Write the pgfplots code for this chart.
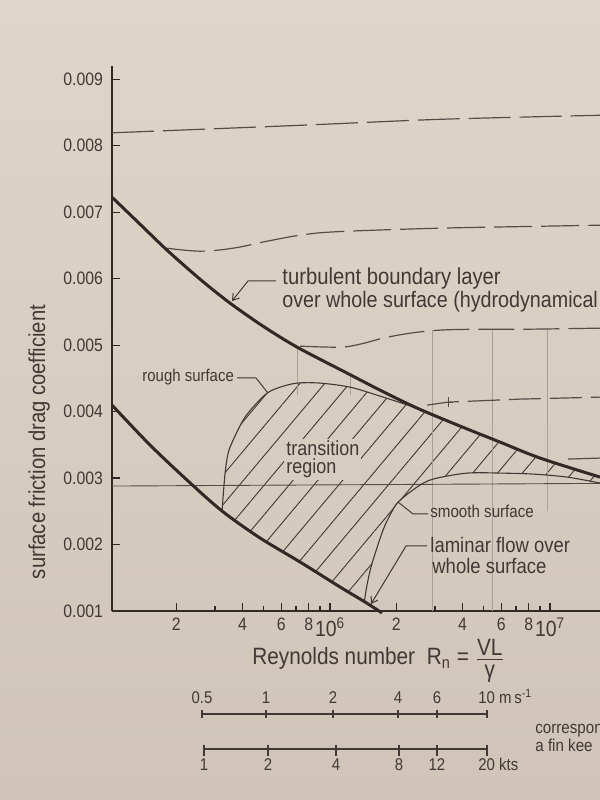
\documentclass[border=0pt]{standalone}
\usepackage{fontspec}
\setmainfont{Liberation Sans}[FakeStretch=0.88]
\usepackage{pgfplots}
\pgfplotsset{compat=1.18}
\usetikzlibrary{patterns.meta,arrows.meta}
\definecolor{paperlight}{RGB}{223,214,202}
\definecolor{paperdark}{RGB}{207,196,183}
\definecolor{papermid}{RGB}{214,204,191}
\definecolor{ink}{RGB}{50,41,38}
\definecolor{inkthin}{RGB}{66,56,53}
\definecolor{inkdash}{RGB}{86,76,72}
\definecolor{faint}{RGB}{170,160,152}
\newcommand\fs[1]{\fontsize{#1}{#1}\selectfont}

\pgfplotstableread{
R C
1.02e5 0.007226
1.368e5 0.00682
1.815e5 0.006429
2.564e5 0.005992
3.511e5 0.005632
4.955e5 0.005286
7.079e5 0.00497
1.195e6 0.004579
1.687e6 0.004323
2.485e6 0.004053
3.899e6 0.003782
5.929e6 0.003541
9.01e6 0.003301
1.687e7 0.003015
}\turbulent

\pgfplotstableread{
R C
1.02e5 0.004098
1.52e5 0.003496
2.263e5 0.002955
3.228e5 0.002504
4.806e5 0.002098
7.305e5 0.001737
1.11e6 0.001361
1.442e6 0.001135
1.723e6 0.00097
}\laminar

\pgfplotstableread{
R C
3.228e5 0.002504
3.263e5 0.002714
3.332e5 0.003075
3.439e5 0.003376
3.624e5 0.003571
4.023e5 0.003872
4.467e5 0.004068
5.172e5 0.004278
5.925e5 0.004368
7.079e5 0.004429
9.006e5 0.004429
1.233e6 0.004368
1.688e6 0.004233
2.486e6 0.004053
}\rough

\pgfplotstableread{
R C
1.428e6 0.00112
1.458e6 0.001316
1.504e6 0.001541
1.568e6 0.001767
1.741e6 0.002218
1.874e6 0.002444
2.038e6 0.002639
2.486e6 0.002865
2.939e6 0.002985
4.195e6 0.003075
5.925e6 0.003075
8.37e6 0.00306
1.195e7 0.003015
1.687e7 0.002925
}\smoothsurf

\begin{document}
\begin{tikzpicture}
\shade[top color=paperlight,bottom color=paperdark] (0,0) rectangle (300pt,400pt);
\path[use as bounding box] (0,0) rectangle (300pt,400pt);

\begin{axis}[
  at={(56pt,94.5pt)}, anchor=south west,
  scale only axis, width=244pt, height=272.5pt,
  xmode=log, xmin=1.02e5, xmax=1.687e7,
  ymin=0.001, ymax=0.0092,
  axis lines=left,
  axis line style={-, draw=ink, line width=0.7pt},
  clip=false,
  tick align=inside,
  major tick length=4pt, minor tick length=2.5pt,
  tick style={draw=ink, line width=0.6pt},
  xtick={2e5,4e5,6e5,8e5,1e6,2e6,4e6,6e6,8e6,1e7},
  xticklabels={2,4,6,8,{\raisebox{-2.5pt}{\fs{11}10\textsuperscript{6}}},2,4,6,8,{\raisebox{-2pt}{\fs{11}10\textsuperscript{7}}}},
  minor xtick={3e5,5e5,7e5,9e5,3e6,5e6,7e6,9e6},
  ytick={0.001,0.002,0.003,0.004,0.005,0.006,0.007,0.008,0.009},
  yticklabels={0.001,0.002,0.003,0.004,0.005,0.006,0.007,0.008,0.009},
  scaled y ticks=false,
  tick label style={font=\fs{9}, text=inkthin},
  yticklabel style={xshift=-1pt},
  /pgf/number format/assume math mode=true,
]
% hatched transition region
\addplot[draw=none, pattern={Lines[angle=50,distance=9.5pt,line width=0.45pt]}, pattern color=inkthin]
 coordinates {
 (3.228e5,0.002504) (3.263e5,0.002714) (3.332e5,0.003075) (3.439e5,0.003376)
 (3.624e5,0.003571) (4.023e5,0.003872) (4.467e5,0.004068) (5.172e5,0.004278)
 (5.925e5,0.004368) (7.079e5,0.004429) (9.006e5,0.004429) (1.233e6,0.004368)
 (1.688e6,0.004233) (2.486e6,0.004053)
 (3.899e6,0.003782) (5.929e6,0.003541) (9.01e6,0.003301) (1.687e7,0.003015)
 (1.687e7,0.002925) (1.195e7,0.003015) (8.37e6,0.00306) (5.925e6,0.003075)
 (4.195e6,0.003075) (2.939e6,0.002985) (2.486e6,0.002865) (2.038e6,0.002639)
 (1.874e6,0.002444) (1.741e6,0.002218) (1.568e6,0.001767) (1.504e6,0.001541)
 (1.458e6,0.001316) (1.428e6,0.00112)
 (1.11e6,0.001361) (7.305e5,0.001737) (4.806e5,0.002098)
 } -- cycle;

% faint vertical construction lines
\addplot[faint, line width=0.5pt] coordinates {(7.08e5,0.004985) (7.08e5,0.004248)};
\addplot[faint, line width=0.5pt] coordinates {(1.233e6,0.004579) (1.233e6,0.004248)};
\addplot[faint, line width=0.5pt] coordinates {(2.91e6,0.005226) (2.91e6,0.001)};
\addplot[faint, line width=0.5pt] coordinates {(5.5e6,0.00524) (5.5e6,0.001)};
\addplot[faint, line width=0.5pt] coordinates {(9.7e6,0.00524) (9.7e6,0.0025)};

% thin horizontal line
\addplot[inkdash, line width=0.45pt] coordinates {(1.02e5,0.00288) (1.687e7,0.00292)};

% dashed curves
\addplot[inkdash, line width=0.6pt, dash pattern=on 21pt off 4.5pt, smooth]
 coordinates {(1.02e5,0.008195) (7.305e5,0.008308) (3.16e6,0.008398) (1.687e7,0.008459)};
\addplot[inkdash, line width=0.6pt, dash pattern=on 19pt off 4.5pt, smooth, tension=0.6]
 coordinates {(1.815e5,0.006459) (2.564e5,0.006414) (3.624e5,0.006459) (5.172e5,0.006564)
 (7.305e5,0.006654) (1.076e6,0.006707) (3.065e6,0.006759) (9.006e6,0.006789) (1.687e7,0.006805)};
\addplot[inkdash, line width=0.6pt, dash pattern=on 18pt off 4.5pt, smooth, tension=0.6]
 coordinates {(7.305e5,0.004985) (1.11e6,0.00497) (1.369e6,0.005015) (1.741e6,0.005105)
 (2.31e6,0.00518) (3.162e6,0.005226) (4.808e6,0.00524) (7.864e6,0.00524) (1.687e7,0.005256)};
\addplot[inkdash, line width=0.6pt, dash pattern=on 16pt off 4.5pt]
 coordinates {(2.76e6,0.004098) (3.44e6,0.004143) (7.305e6,0.004188) (1.687e7,0.004218)};
\addplot[inkdash, only marks, mark=+, mark size=2.5pt, line width=0.6pt]
 coordinates {(3.44e6,0.004143)};
\addplot[inkdash, line width=0.6pt, dash pattern=on 16pt off 4.5pt]
 coordinates {(1.208e7,0.003286) (1.687e7,0.003301)};

% thin boundary curves
\addplot[inkthin, line width=0.55pt, smooth, tension=0.5] table[x=R,y=C] {\rough};
\addplot[inkthin, line width=0.55pt, smooth, tension=0.5] table[x=R,y=C] {\smoothsurf};

% thick curves
\addplot[ink, line width=1.5pt, smooth, tension=0.5] table[x=R,y=C] {\turbulent};
\addplot[ink, line width=1.5pt, smooth, tension=0.5] table[x=R,y=C] {\laminar};
\end{axis}

\begin{scope}[x=0.5pt,y=-0.5pt,yshift=400pt, every node/.style={text=inkthin, inner sep=0pt}]
% y label
\node[rotate=90, anchor=base, font=\fs{11.5}] at (45,442) {surface friction drag coefficient};
% x label
\node[anchor=base west, font=\fs{11.8}] at (252,665)
 {Reynolds number\enspace R\textsubscript{n} = $\frac{\hbox{\fs{11.8}VL}}{\rule{0pt}{8.5pt}\hbox{\fs{11.8}γ}}$};

% annotations
\node[anchor=base west, font=\fs{11.5}] at (282,285) {turbulent boundary layer};
\node[anchor=base west, font=\fs{11.2}] at (282,308) {over whole surface (hydrodynamical};
\draw[inkthin, line width=0.5pt, -{Straight Barb[length=3pt,width=4pt]}] (276,281) -- (248,281) -- (232,301);

\node[anchor=base west, font=\fs{8.5}] at (142,382) {rough surface};
\draw[inkthin, line width=0.5pt] (237,378) -- (256,378) -- (268,393);

\node[anchor=base west, align=left, fill=papermid, inner sep=1pt,
      font=\fontsize{10.2}{9.2}\selectfont] at (284,474) {transition\\region};

\node[anchor=base west, font=\fs{8.6}] at (430,518) {smooth surface};
\draw[inkthin, line width=0.5pt] (428,514) -- (413,514) -- (398,502);

\node[anchor=base west, align=left, font=\fontsize{10.5}{10.3}\selectfont] at (430,573) {laminar flow over\\\hspace{1pt}whole surface};
\draw[inkthin, line width=0.5pt, -{Straight Barb[length=3pt,width=4pt]}] (427,546) -- (406,546) -- (371,604);

% speed scales
\draw[inkthin, line width=0.55pt] (202,714) -- (487,714);
\foreach \xx/\lab in {202/0.5,266/1,333/2,398/4,437/6} {
  \draw[inkthin, line width=0.55pt] (\xx,710) -- (\xx,718);
  \node[anchor=base, font=\fs{8.5}] at (\xx,703) {\lab};
}
\draw[inkthin, line width=0.55pt] (487,710) -- (487,718);
\node[anchor=base west, font=\fs{8.5}] at (478,703) {10 m\,s\textsuperscript{-1}};

\draw[inkthin, line width=0.55pt] (204,749) -- (487,749);
\foreach \xx/\lab in {204/1,268/2,336/4,399/8,437/12} {
  \draw[inkthin, line width=0.55pt] (\xx,745) -- (\xx,756);
  \node[anchor=base, font=\fs{8.5}] at (\xx,770) {\lab};
}
\draw[inkthin, line width=0.55pt] (487,745) -- (487,756);
\node[anchor=base west, font=\fs{8.5}] at (478,770) {20 kts};

\node[anchor=base west, font=\fs{8.6}] at (535,733) {correspon};
\node[anchor=base west, font=\fs{8.6}] at (535,752) {a fin kee};
\end{scope}
\end{tikzpicture}
\end{document}
